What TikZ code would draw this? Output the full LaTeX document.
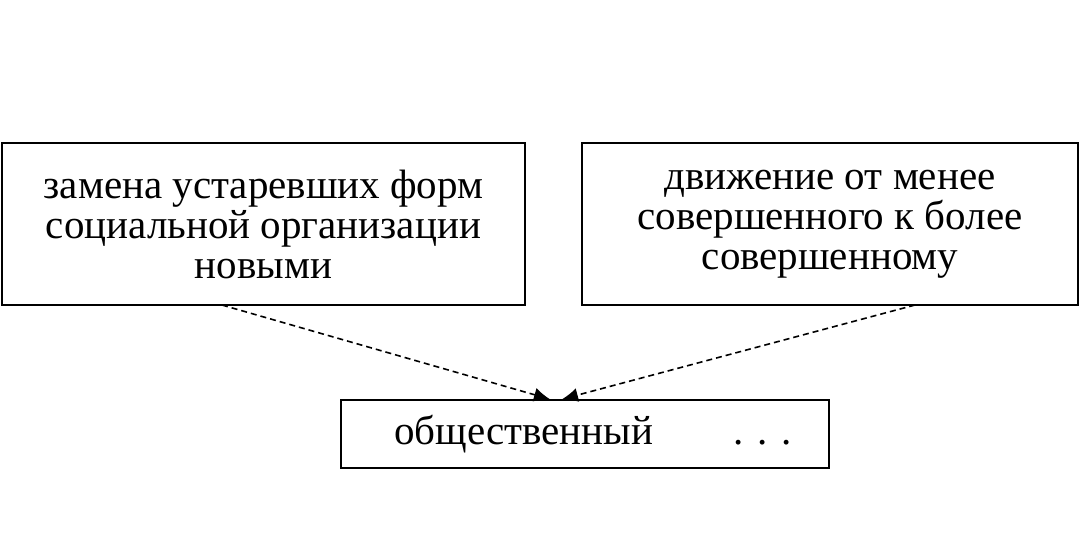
\documentclass[tikz,border=0pt]{standalone}
\usepackage{fontspec}
\setmainfont{Liberation Serif}
\usetikzlibrary{positioning,arrows.meta}

\begin{document}
\begin{tikzpicture}[x=0.5pt, y=-0.5pt,
  box/.style={draw, thick, align=center, inner sep=0pt, font=\fontsize{20.5}{20}\selectfont},
  link/.style={draw, thick, densely dashed, -{Latex[length=8pt, width=7pt]}}
]
  \useasboundingbox (0,0) rectangle (1080,558);
  % the two definitions and the term
  \node[box, minimum width=261.5pt, minimum height=81pt] (old) at (263.5,224)
    {замена устаревших форм\\социальной организации\\новыми};
  \node[box, minimum width=248pt, minimum height=81pt] (new) at (830,224)
    {движение от менее\\совершенного к более\\совершенному};
  \node[box, minimum width=244pt, minimum height=34pt] (term) at (585,434)
    {\hspace*{8pt}общественный \hspace{30pt} . . .};

  \coordinate (oldout) at (222,305);
  \coordinate (newout) at (915,305);
  \draw[link] (oldout) -- (term.north -| 550,0);
  \draw[link] (newout) -- (term.north -| 562,0);
\end{tikzpicture}
\end{document}
